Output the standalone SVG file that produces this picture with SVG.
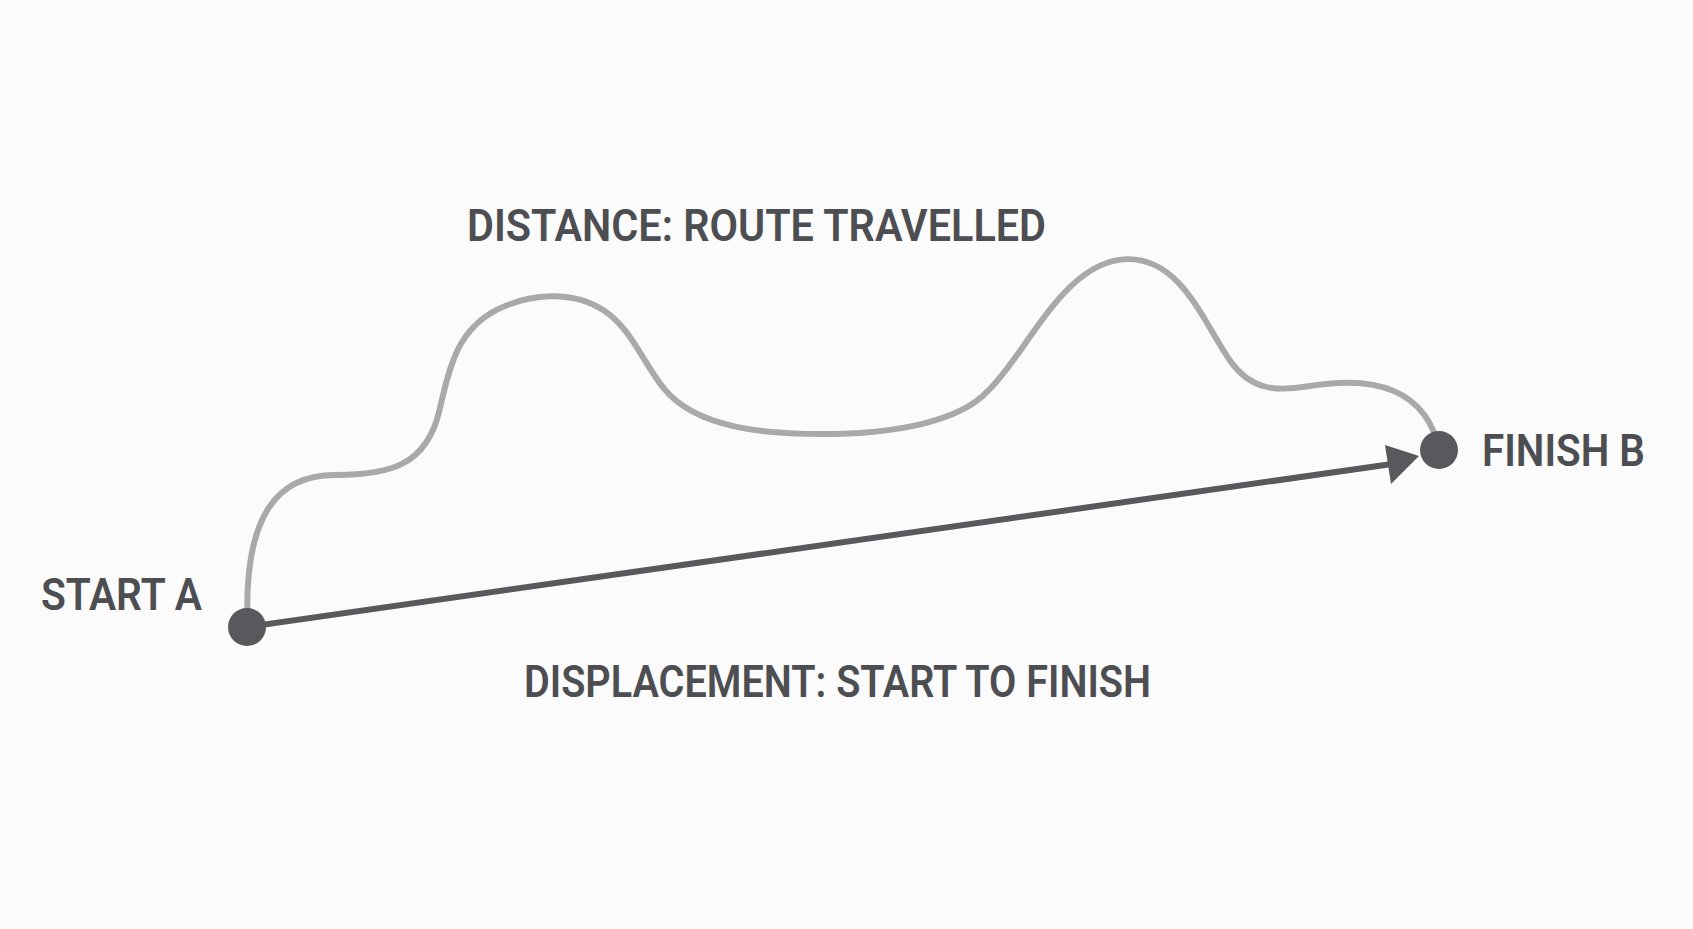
<svg xmlns="http://www.w3.org/2000/svg" width="1693" height="929" viewBox="0 0 1693 929">
  <style>
    .lbl { font-family: Roboto, "Liberation Sans", sans-serif; font-weight: 600; font-size: 45px; fill: #4d4e52; }
    .route { fill: none; stroke: #a9a9a9; stroke-width: 5.5; stroke-linecap: round; }
    .disp { stroke: #58595c; stroke-width: 6; stroke-linecap: round; }
    .dot { fill: #58595c; }
  </style>
  <rect width="1693" height="929" fill="#fbfbfb"/>
  <g id="connectors">
    <path id="distance-route" class="route" transform="scale(1.0797)" d="M229,563 C229,480 255,440 310,440 C360,440 395,432 407,380 C417,336 425,305 460,287 C490,272 530,268 560,288 C585,305 595,335 615,360 C645,397 710,402 760,402 C830,402 890,390 915,362 C950,330 985,240 1045,240 C1095,240 1115,300 1140,335 C1158,360 1180,363 1210,358 C1240,353 1305,345 1328,400"/>
    <line id="displacement" class="disp" x1="247" y1="627" x2="1392" y2="464"/>
    <polygon class="dot" points="1419,456 1385,445 1391,484"/>
  </g>
  <g id="start-a">
    <circle class="dot" cx="247" cy="627" r="19"/>
    <text class="lbl" x="41" y="610" textLength="161" lengthAdjust="spacingAndGlyphs">START A</text>
  </g>
  <g id="finish-b">
    <circle class="dot" cx="1439" cy="450" r="19"/>
    <text class="lbl" x="1482" y="466" textLength="163" lengthAdjust="spacingAndGlyphs">FINISH B</text>
  </g>
  <g id="label-distance">
    <text class="lbl" x="467" y="241" textLength="579" lengthAdjust="spacingAndGlyphs">DISTANCE: ROUTE TRAVELLED</text>
  </g>
  <g id="label-displacement">
    <text class="lbl" x="524" y="697" textLength="627" lengthAdjust="spacingAndGlyphs">DISPLACEMENT: START TO FINISH</text>
  </g>
</svg>
